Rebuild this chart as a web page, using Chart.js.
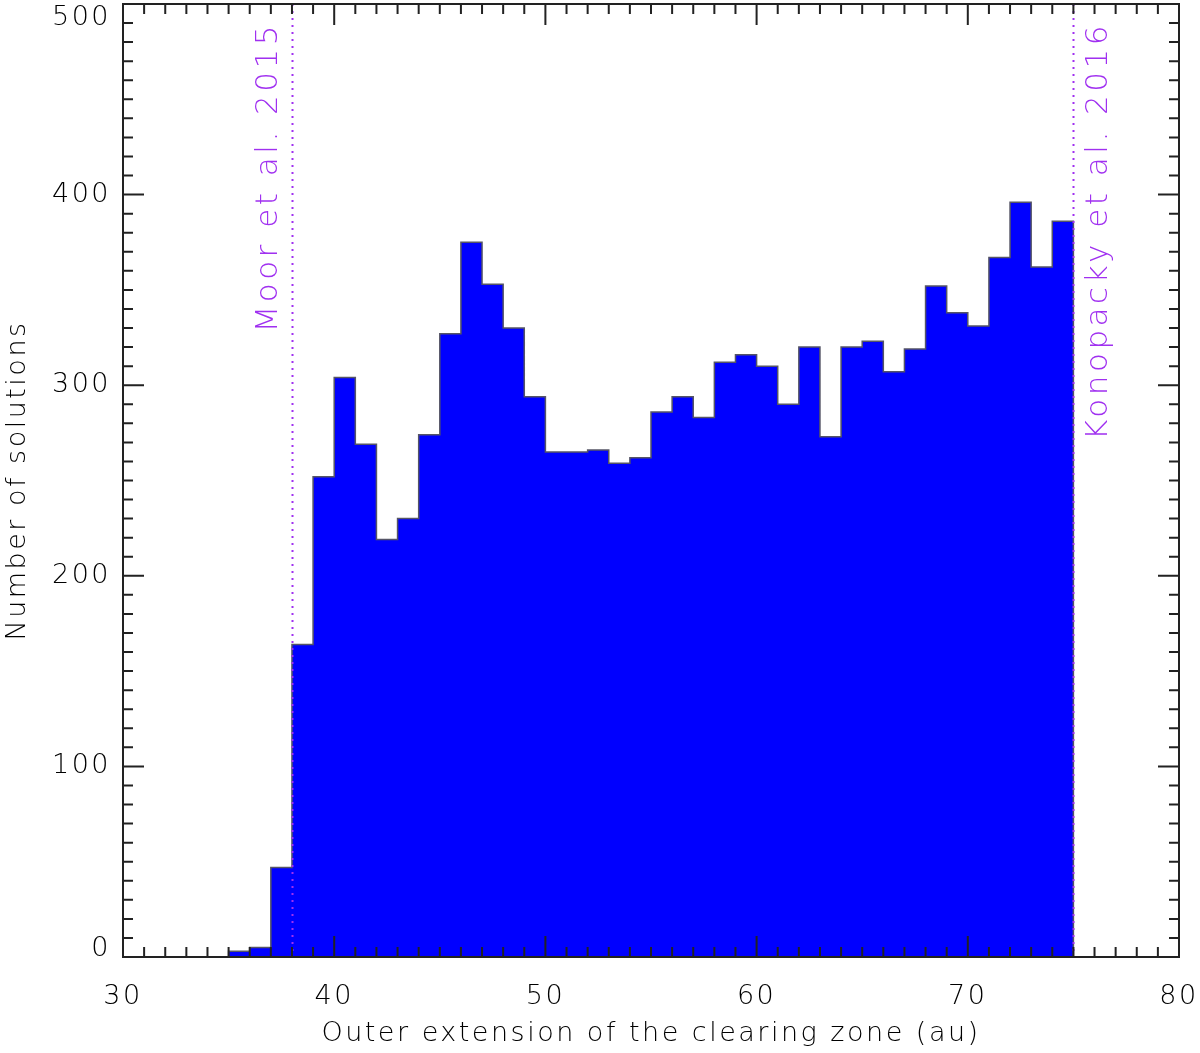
<!DOCTYPE html>
<html>
<head>
<meta charset="utf-8">
<script src="https://cdn.jsdelivr.net/npm/chart.js@4/dist/chart.umd.min.js"></script>
<style>
  html, body { margin: 0; padding: 0; background: #fff; }
  #wrap { width: 1200px; height: 1053px; }
</style>
</head>
<body>
<div id="wrap"><canvas id="myChart" width="1200" height="1053"></canvas></div>
<script>
// histogram bins, 1 au wide, left edges
const binStart = [35, 36, 37, 38, 39, 40, 41, 42, 43, 44, 45, 46, 47, 48, 49,
  50, 51, 52, 53, 54, 55, 56, 57, 58, 59, 60, 61, 62, 63, 64, 65, 66, 67, 68,
  69, 70, 71, 72, 73, 74];
const counts = [3, 5, 47, 164, 252, 304, 269, 219, 230, 274, 327, 375, 353, 330,
  294, 265, 265, 266, 259, 262, 286, 294, 283, 312, 316, 310, 290, 320, 273, 320,
  323, 307, 319, 352, 338, 331, 367, 396, 362, 386];
const binWidth = 1;

const xTicks = [30, 40, 50, 60, 70, 80];
const yTicks = [0, 100, 200, 300, 400, 500];

// literature values (vertical dotted lines)
const refLines = [
  { x: 38, label: "Moor et al. 2015", side: "left" },
  { x: 75, label: "Konopacky et al. 2016", side: "right" },
];

const FONT = "'DejaVu Sans', sans-serif";
const PURPLE = "#a030f0";
const INK = "#000";

// outline of the histogram as a step curve
const steps = [{ x: binStart[0], y: 0 }];
binStart.forEach((b, i) => steps.push({ x: b, y: counts[i] }));
const lastEdge = binStart[binStart.length - 1] + binWidth;
steps.push({ x: lastEdge, y: counts[counts.length - 1] });
steps.push({ x: lastEdge, y: 0 });

const idlFrame = {
  id: "idlFrame",
  beforeDraw(chart) {
    chart.ctx.letterSpacing = "2.5px";   // wide IDL-ish lettering
  },
  afterDatasetsDraw(chart) {
    const { ctx, chartArea: a, scales: { x, y } } = chart;
    ctx.save();

    // reference lines + labels
    refLines.forEach(r => {
      const px = Math.round(x.getPixelForValue(r.x)) + 0.5;
      ctx.strokeStyle = PURPLE;
      ctx.lineWidth = 2;
      ctx.setLineDash([2, 5]);
      ctx.beginPath();
      ctx.moveTo(px, a.top);
      ctx.lineTo(px, a.bottom);
      ctx.stroke();
      ctx.setLineDash([]);

      ctx.save();
      ctx.fillStyle = PURPLE;
      ctx.font = "300 31px " + FONT;
      ctx.letterSpacing = "3.5px";
      ctx.textAlign = "right";
      ctx.translate(r.side === "left" ? px - 8 : px + 10, a.top + 18);
      ctx.rotate(-Math.PI / 2);
      ctx.textBaseline = r.side === "left" ? "bottom" : "top";
      ctx.fillText(r.label, 0, 0);
      ctx.restore();
    });

    // inward ticks on all four sides
    ctx.strokeStyle = "#222";
    ctx.lineWidth = 2;
    ctx.beginPath();
    for (let v = x.min; v <= x.max; v += 1) {
      const px = x.getPixelForValue(v);
      const len = v % 10 === 0 ? 21 : 10;
      ctx.moveTo(px, a.bottom); ctx.lineTo(px, a.bottom - len);
      ctx.moveTo(px, a.top); ctx.lineTo(px, a.top + len);
    }
    for (let v = y.min; v <= y.max; v += 10) {
      const py = y.getPixelForValue(v);
      const len = v % 100 === 0 ? 21 : 10;
      ctx.moveTo(a.left, py); ctx.lineTo(a.left + len, py);
      ctx.moveTo(a.right, py); ctx.lineTo(a.right - len, py);
    }
    ctx.stroke();
    ctx.strokeRect(a.left, a.top, a.right - a.left, a.bottom - a.top);

    // y tick labels (kept inside the canvas like the original)
    ctx.fillStyle = INK;
    ctx.font = "300 27px " + FONT;
    ctx.textAlign = "right";
    ctx.textBaseline = "middle";
    yTicks.forEach(v => {
      let py = y.getPixelForValue(v);
      if (v === y.max) py += 14;
      if (v === y.min) py -= 8;
      ctx.fillText(String(v), a.left - 12, py);
    });
    ctx.restore();
  }
};

new Chart(document.getElementById("myChart"), {
  type: "line",
  data: {
    datasets: [{
      data: steps,
      stepped: "before",
      fill: "origin",
      backgroundColor: "#0000ff",
      borderColor: "#555566",
      borderWidth: 1.5,
      pointRadius: 0,
    }],
  },
  options: {
    responsive: false,
    animation: false,
    layout: { padding: { top: 4, right: 21, left: 0, bottom: 0 } },
    plugins: {
      legend: { display: false },
      tooltip: { enabled: false },
    },
    scales: {
      x: {
        type: "linear",
        min: 30,
        max: 80,
        afterBuildTicks: s => { s.ticks = xTicks.map(v => ({ value: v })); },
        afterFit: s => { s.height = 96; s.paddingLeft = 0; s.paddingRight = 0; },
        grid: { display: false },
        border: { display: false },
        ticks: { color: INK, padding: 16, maxRotation: 0, font: { family: FONT, size: 27, weight: 300 } },
        title: {
          display: true,
          text: "Outer extension of the clearing zone (au)",
          color: INK,
          font: { family: FONT, size: 27, weight: 300 },
          padding: { top: 0, bottom: 3 },
        },
      },
      y: {
        min: 0,
        max: 500,
        afterFit: s => { s.width = 123; },
        grid: { display: false },
        border: { display: false },
        ticks: { display: false },
        title: {
          display: true,
          text: "Number of solutions",
          color: INK,
          font: { family: FONT, size: 27, weight: 300 },
          padding: { top: 2, bottom: 0 },
        },
      },
    },
  },
  plugins: [idlFrame],
});
</script>
</body>
</html>
